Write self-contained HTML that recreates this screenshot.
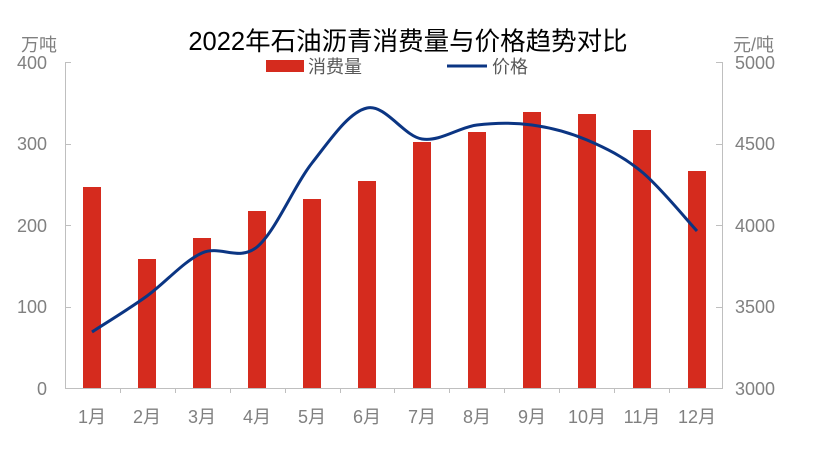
<!DOCTYPE html>
<html><head><meta charset="utf-8"><style>
body{margin:0;background:#fff;}
svg{display:block;font-family:"Liberation Sans","Noto Sans CJK SC",sans-serif;}
</style></head><body>
<svg width="815" height="461" viewBox="0 0 815 461" xmlns="http://www.w3.org/2000/svg">
<rect width="815" height="461" fill="#fff"/>
<text x="408" y="50" font-size="25.5" text-anchor="middle" fill="#000">2022年石油沥青消费量与价格趋势对比</text>
<g fill="#808080" font-size="18">
<text x="21" y="51">万吨</text>
<text x="733" y="51">元/吨</text>
<g text-anchor="end">
<text x="47" y="69">400</text><text x="47" y="150">300</text><text x="47" y="232">200</text><text x="47" y="313">100</text><text x="47" y="395">0</text>
</g>
<g text-anchor="start">
<text x="735" y="69">5000</text><text x="735" y="150">4500</text><text x="735" y="232">4000</text><text x="735" y="313">3500</text><text x="735" y="395">3000</text>
</g>
<g text-anchor="middle">
<text x="92" y="423">1月</text><text x="147" y="423">2月</text><text x="202" y="423">3月</text><text x="257" y="423">4月</text><text x="312" y="423">5月</text><text x="367" y="423">6月</text><text x="422" y="423">7月</text><text x="477" y="423">8月</text><text x="532" y="423">9月</text><text x="587" y="423">10月</text><text x="642" y="423">11月</text><text x="697" y="423">12月</text>
</g>
<text x="308" y="73" fill="#595959">消费量</text>
<text x="492" y="73" fill="#595959">价格</text>
</g>
<rect x="266" y="60" width="38" height="12" fill="#d52b1e"/>
<line x1="447" y1="66" x2="487" y2="66" stroke="#0b3583" stroke-width="3"/>
<g stroke="#bfbfbf" stroke-width="1" fill="none">
<path d="M65.5 62V388.5M722.5 62V388.5M65 388.5H723"/>
<path d="M65 62.5h6M65 144.5h6M65 225.5h6M65 307.5h6M716 62.5h6M716 144.5h6M716 225.5h6M716 307.5h6"/>
<path d="M120.5 388v5M175.5 388v5M230.5 388v5M285.5 388v5M340.5 388v5M394.5 388v5M449.5 388v5M504.5 388v5M559.5 388v5M614.5 388v5M669.5 388v5"/>
</g>
<g fill="#d52b1e">
<rect x="83" y="187" width="18" height="201"/>
<rect x="138" y="259" width="18" height="129"/>
<rect x="193" y="238" width="18" height="150"/>
<rect x="248" y="211" width="18" height="177"/>
<rect x="303" y="199" width="18" height="189"/>
<rect x="358" y="181" width="18" height="207"/>
<rect x="413" y="142" width="18" height="246"/>
<rect x="468" y="132" width="18" height="256"/>
<rect x="523" y="112" width="18" height="276"/>
<rect x="578" y="114" width="18" height="274"/>
<rect x="633" y="130" width="18" height="258"/>
<rect x="688" y="171" width="18" height="217"/>
</g>
<path fill="none" stroke="#0b3583" stroke-width="3" d="M92 332C101 326 128.7 309.2 147 296C165.3 282.8 183.7 261.2 202 253C220.3 244.8 238.7 262 257 247C275.3 232 293.7 186.2 312 163C330.3 139.8 348.7 112 367 108C385.3 104 403.7 136.2 422 139C440.3 141.8 458.7 127.3 477 125C495.3 122.7 513.7 122.5 532 125C550.3 127.5 568.7 132.2 587 140C605.3 147.8 623.7 156.8 642 172C660.3 187.2 687.8 221.2 697 231"/>
</svg>
</body></html>
